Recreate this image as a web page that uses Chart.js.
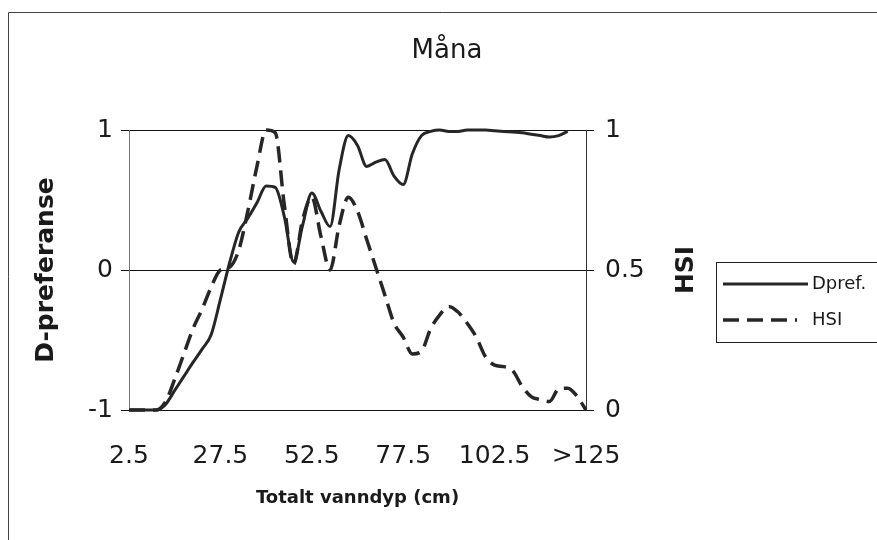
<!DOCTYPE html>
<html>
<head>
<meta charset="utf-8">
<script src="https://cdn.jsdelivr.net/npm/chart.js@4/dist/chart.umd.min.js"></script>
<style>
  html, body { margin: 0; padding: 0; background: #fff; }
  #wrap { width: 877px; height: 540px; }
</style>
</head>
<body>
<div id="wrap"><canvas id="chart" width="877" height="540"></canvas></div>
<script>
// Water depth classes (cm)
const depthLabels = [
  '2.5', '5', '7.5', '10', '12.5', '15', '17.5', '20', '22.5', '25',
  '27.5', '30', '32.5', '35', '37.5', '40', '42.5', '45', '47.5', '50',
  '52.5', '55', '57.5', '60', '62.5', '65', '67.5', '70', '72.5', '75',
  '77.5', '80', '82.5', '85', '87.5', '90', '92.5', '95', '97.5', '100',
  '102.5', '105', '107.5', '110', '112.5', '115', '117.5', '120', '122.5', '125',
  '>125'
];

// Depth preference index (left axis, -1..1)
const dprefValues = [
  -1, -1, -1, -1, -0.96, -0.86, -0.76, -0.66, -0.565, -0.46,
  -0.21, 0.05, 0.27, 0.37, 0.48, 0.6, 0.59, 0.38, 0.06, 0.32,
  0.55, 0.42, 0.31, 0.72, 0.96, 0.89, 0.74, 0.77, 0.79, 0.67,
  0.61, 0.83, 0.96, 0.99, 1.0, 0.99, 0.99, 1.0, 1.0, 1.0,
  0.995, 0.99, 0.985, 0.98, 0.97, 0.96, 0.95, 0.96, 0.99, null,
  null
];

// Habitat suitability index (right axis, 0..1)
const hsiValues = [
  0, 0, 0, 0, 0.03, 0.11, 0.2, 0.29, 0.36, 0.44,
  0.5, 0.51, 0.57, 0.71, 0.87, 1.0, 0.99, 0.73, 0.52, 0.68,
  0.76, 0.62, 0.5, 0.66, 0.76, 0.71, 0.61, 0.51, 0.41, 0.31,
  0.26, 0.2, 0.21, 0.29, 0.34, 0.37, 0.35, 0.31, 0.26, 0.19,
  0.16, 0.155, 0.14, 0.085, 0.048, 0.037, 0.03, 0.075, 0.078, 0.05,
  0
];

const leftTicks = [-1, 0, 1];
const rightTicks = [0, 0.5, 1];

const chartTitle = 'Måna';
const xTitle = 'Totalt vanndyp (cm)';
const yTitle = 'D-preferanse';
const y1Title = 'HSI';

const FONT = '"DejaVu Sans", "Liberation Sans", Arial, sans-serif';
const INK = '#1a1a1a';

// Title, right-axis title, legend box and outer frame
const decor = {
  id: 'decor',
  afterDraw(chart) {
    const ctx = chart.ctx;
    const area = chart.chartArea;
    ctx.save();

    // outer frame
    ctx.strokeStyle = '#444';
    ctx.lineWidth = 1;
    ctx.beginPath();
    ctx.moveTo(8.5, 540);
    ctx.lineTo(8.5, 12.5);
    ctx.lineTo(877, 12.5);
    ctx.stroke();

    // chart title
    ctx.fillStyle = INK;
    ctx.textAlign = 'center';
    ctx.textBaseline = 'middle';
    ctx.font = '26px ' + FONT;
    ctx.fillText(chartTitle, 447, 51);

    // right axis title, reading bottom to top
    ctx.save();
    ctx.translate(686, (area.top + area.bottom) / 2);
    ctx.rotate(-Math.PI / 2);
    ctx.font = 'bold 25px ' + FONT;
    ctx.fillText(y1Title, 0, 0);
    ctx.restore();

    // legend
    const bx = 716.5, by = 262.5, bw = 200, bh = 80;
    ctx.strokeStyle = '#222';
    ctx.lineWidth = 1;
    ctx.strokeRect(bx, by, bw, bh);
    const rows = [284, 320];
    chart.data.datasets.forEach((ds, i) => {
      const y = rows[i];
      ctx.save();
      ctx.strokeStyle = ds.borderColor;
      ctx.lineWidth = ds.borderWidth;
      ctx.setLineDash(ds.borderDash || []);
      ctx.beginPath();
      ctx.moveTo(723, y);
      ctx.lineTo(i === 0 ? 808 : 797, y);
      ctx.stroke();
      ctx.restore();
      ctx.fillStyle = INK;
      ctx.textAlign = 'left';
      ctx.textBaseline = 'middle';
      ctx.font = '18px ' + FONT;
      ctx.fillText(ds.label, 812, y);
    });

    ctx.restore();
  }
};

new Chart(document.getElementById('chart'), {
  type: 'line',
  data: {
    labels: depthLabels,
    datasets: [
      {
        label: 'Dpref.',
        data: dprefValues,
        yAxisID: 'y',
        borderColor: '#262626',
        borderWidth: 3,
        pointRadius: 0,
        cubicInterpolationMode: 'monotone',
        fill: false,
        clip: 6
      },
      {
        label: 'HSI',
        data: hsiValues,
        yAxisID: 'y1',
        borderColor: '#262626',
        borderWidth: 3.5,
        borderDash: [16, 8],
        pointRadius: 0,
        cubicInterpolationMode: 'monotone',
        fill: false,
        clip: 6
      }
    ]
  },
  options: {
    responsive: false,
    animation: false,
    devicePixelRatio: 1,
    layout: { padding: { left: 10, right: 167, top: 130, bottom: 20 } },
    plugins: {
      legend: { display: false },
      title: { display: false },
      tooltip: { enabled: false }
    },
    scales: {
      x: {
        type: 'category',
        offset: false,
        grid: { display: false, drawTicks: false, tickLength: 0 },
        border: { display: false },
        ticks: {
          autoSkip: false,
          maxRotation: 0,
          minRotation: 0,
          padding: 31,
          color: INK,
          font: { family: FONT, size: 25 },
          callback: (v, i) => (i % 10 === 0 ? depthLabels[i] : '')
        },
        title: {
          display: true,
          text: xTitle,
          color: INK,
          font: { family: FONT, size: 18, weight: 'bold' },
          padding: { top: 0, bottom: 11 }
        },
        afterFit: s => { s.height = 110; }
      },
      y: {
        position: 'left',
        min: -1,
        max: 1,
        afterBuildTicks: s => { s.ticks = leftTicks.map(v => ({ value: v })); },
        grid: { color: '#111', lineWidth: 1, tickLength: 8 },
        border: { color: '#777', width: 1 },
        ticks: {
          padding: 8,
          color: INK,
          font: { family: FONT, size: 25 },
          callback: v => String(v)
        },
        title: {
          display: true,
          text: yTitle,
          color: INK,
          font: { family: FONT, size: 25, weight: 'bold' },
          padding: { top: 21, bottom: 0 }
        },
        afterFit: s => { s.width = 119; }
      },
      y1: {
        position: 'right',
        min: 0,
        max: 1,
        afterBuildTicks: s => { s.ticks = rightTicks.map(v => ({ value: v })); },
        grid: { drawOnChartArea: false, color: '#111', lineWidth: 1, tickLength: 8 },
        border: { color: '#333', width: 1 },
        ticks: {
          padding: 11,
          color: INK,
          font: { family: FONT, size: 25 },
          callback: v => String(v)
        },
        afterFit: s => { s.width = 124; }
      }
    }
  },
  plugins: [decor]
});
</script>
</body>
</html>
